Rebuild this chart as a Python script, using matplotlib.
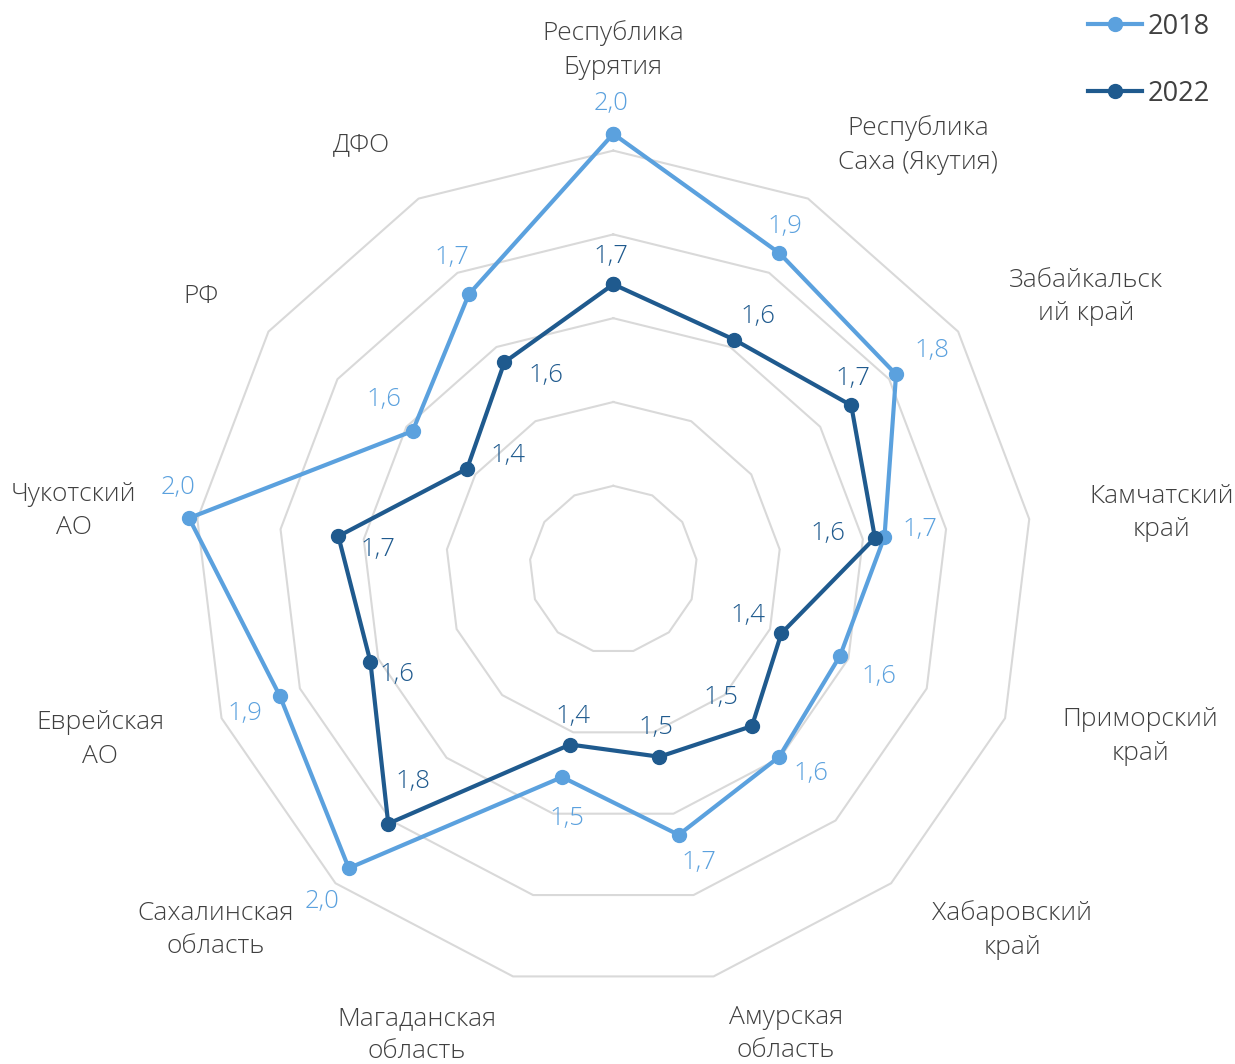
import numpy as np
import matplotlib
matplotlib.use("Agg")
import matplotlib.pyplot as plt
from matplotlib.lines import Line2D

plt.rcParams['font.family'] = ['Open Sans', 'DejaVu Sans']

# --- данные ---
regions = ['Республика\nБурятия', 'Республика\nСаха (Якутия)', 'Забайкальск\nий край',
           'Камчатский\nкрай', 'Приморский\nкрай', 'Хабаровский\nкрай', 'Амурская\nобласть',
           'Магаданская\nобласть', 'Сахалинская\nобласть', 'Еврейская\nАО', 'Чукотский\nАО',
           'РФ', 'ДФО']
v2018 = [2.04, 1.853, 1.82, 1.652, 1.579, 1.597, 1.652, 1.51, 1.952, 1.851, 2.02, 1.582, 1.742]
v2022 = [1.681, 1.62, 1.69, 1.629, 1.429, 1.499, 1.46, 1.43, 1.81, 1.62, 1.661, 1.424, 1.559]
ring_levels = [1.2, 1.4, 1.6, 1.8, 2.0]

# --- оформление ---
c2018 = '#5BA1DE'
c2022 = '#1F5A8E'
grid_c = '#D9D9D9'
txt_c = '#404040'

# смещения подписей данных (пиксели: вправо, вверх)
off2018 = [(-2, 30), (6, 27), (36, 24), (35, 7), (39, -21), (32, -17), (20, -28),
           (5, -41), (-27, -33), (-35, -17), (-11, 31), (-29, 32), (-17, 37)]
off2022 = [(-2, 28), (24, 23), (2, 27), (-47, 4), (-33, 18), (-31, 29), (-4, 29),
           (3, 28), (25, 42), (27, -13), (40, -13), (41, 13), (42, -13)]
# положение подписей категорий (угол, радиус)
lab_ang = [0, 35.7, 60.0, 84.1, 107.6, 132.1, 159.6, 202.9, 227.8, 251.7, 276.2, 303.5, 329.3]
lab_r = [2.24, 2.247, 2.302, 2.316, 2.319, 2.283, 2.183, 2.206, 2.28, 2.29, 2.295, 2.18, 2.179]

n = len(regions)
theta = np.arange(n) * 2 * np.pi / n
theta_c = np.append(theta, theta[0])

fig = plt.figure(figsize=(12.35, 10.64), dpi=100)
W, H = 1235, 1064
cx, cy, R = 613.3, 1064 - 569.6, 419
ax = fig.add_axes([(cx - R) / W, (cy - R) / H, 2 * R / W, 2 * R / H], projection='polar')
ax.set_theta_zero_location('N')
ax.set_theta_direction(-1)
ax.set_ylim(1.0, 2.0)
ax.set_facecolor('none')
ax.grid(False)
ax.spines['polar'].set_visible(False)
ax.set_xticks([])
ax.set_yticks([])

for lv in ring_levels:
    ax.plot(theta_c, [lv] * (n + 1), color=grid_c, lw=1.5, clip_on=False, zorder=1)

for vals, col, offs in [(v2018, c2018, off2018), (v2022, c2022, off2022)]:
    vc = vals + vals[:1]
    ax.plot(theta_c, vc, color=col, lw=3, marker='o', ms=10, clip_on=False, zorder=3)
    for t, v, (dx, dy) in zip(theta, vals, offs):
        ax.annotate(f'{v:.1f}'.replace('.', ','), xy=(t, v), xytext=(dx * 0.72, dy * 0.72),
                    textcoords='offset points', ha='center', va='center',
                    annotation_clip=False, color=col, fontsize=18.5,
                    fontweight='light', zorder=4)

for name, a, r in zip(regions, lab_ang, lab_r):
    ax.text(np.deg2rad(a), r, name, ha='center', va='center', fontsize=19,
            color=txt_c, fontweight='light', linespacing=1.45)

handles = [Line2D([], [], color=c2018, lw=3, marker='o', ms=10),
           Line2D([], [], color=c2022, lw=3, marker='o', ms=10)]
fig.legend(handles, ['2018', '2022'], loc='upper right', bbox_to_anchor=(0.9995, 1.011),
           frameon=False, fontsize=19.5, handlelength=2.0, handletextpad=0.2,
           labelspacing=1.45, labelcolor=txt_c)

fig.savefig('out.png', dpi=100, facecolor='white')
